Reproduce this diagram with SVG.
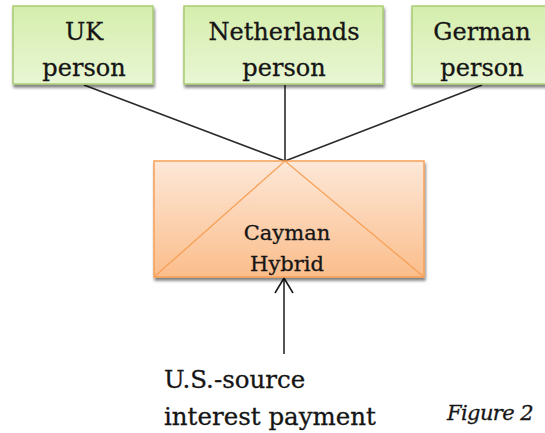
<svg xmlns="http://www.w3.org/2000/svg" width="545" height="433" viewBox="0 0 545 433">
<defs>
<linearGradient id="gGreen" x1="0" y1="0" x2="0" y2="1">
<stop offset="0" stop-color="#d5eeac"/>
<stop offset="1" stop-color="#e9f6d4"/>
</linearGradient>
<linearGradient id="gOrange" x1="0" y1="0" x2="0" y2="1">
<stop offset="0" stop-color="#fde8d8"/>
<stop offset="1" stop-color="#fbbd8b"/>
</linearGradient>
<filter id="sh" x="-10%" y="-10%" width="120%" height="130%">
<feGaussianBlur in="SourceAlpha" stdDeviation="1.5"/>
<feOffset dx="1" dy="3" result="b"/>
<feComponentTransfer><feFuncA type="linear" slope="0.5"/></feComponentTransfer>
<feMerge><feMergeNode/><feMergeNode in="SourceGraphic"/></feMerge>
</filter>
<marker id="open" viewBox="0 0 20 20" refX="18" refY="10" markerWidth="20" markerHeight="20" markerUnits="userSpaceOnUse" orient="auto">
<path d="M3,1 L18,10 L3,19" fill="none" stroke="#1a1a1a" stroke-width="1.6"/>
</marker>
</defs>
<style>
.green{fill:url(#gGreen);stroke:#a9cc72;stroke-width:1.5}
.orange{fill:url(#gOrange);stroke:#f7a057;stroke-width:1.5}
.t{font-family:"DejaVu Serif","Liberation Serif",serif;fill:#151515;stroke:#151515;stroke-width:0.3;text-anchor:middle}
.big{font-size:24px}
.mid{font-size:21px}
.plain{font-family:"DejaVu Serif","Liberation Serif",serif;fill:#151515;stroke:#151515;stroke-width:0.3}
.conn{stroke:#2a2a2a;stroke-width:1.6;fill:none}
</style>
<rect width="545" height="433" fill="#ffffff"/>
<g id="connectors">
<line class="conn" x1="84" y1="85" x2="285" y2="161"/>
<line class="conn" x1="285" y1="85" x2="285" y2="161"/>
<line class="conn" x1="482" y1="85" x2="285" y2="161"/>
<line class="conn" x1="284" y1="354" x2="284" y2="278" marker-end="url(#open)"/>
</g>
<g id="uk">
<rect class="green" x="13" y="6" width="140" height="78" filter="url(#sh)"/>
<text class="t big" x="84" y="40">UK</text>
<text class="t big" x="84" y="76">person</text>
</g>
<g id="netherlands">
<rect class="green" x="184" y="6" width="199" height="78" filter="url(#sh)"/>
<text class="t big" x="284" y="40">Netherlands</text>
<text class="t big" x="284" y="76">person</text>
</g>
<g id="german">
<rect class="green" x="412" y="6" width="140" height="78" filter="url(#sh)"/>
<text class="t big" x="482" y="40">German</text>
<text class="t big" x="482" y="76">person</text>
</g>
<g id="cayman">
<rect class="orange" x="154" y="161" width="270" height="116" filter="url(#sh)"/>
<path d="M154,277 L285,161 L424,277" fill="none" stroke="#f7a057" stroke-width="1.3"/>
<text class="t mid" x="287" y="240">Cayman</text>
<text class="t mid" x="287" y="271">Hybrid</text>
</g>
<g id="source">
<text class="plain" font-size="24.5" x="164" y="388">U.S.-source</text>
<text class="plain" font-size="24.5" x="164" y="425">interest payment</text>
</g>
<text class="plain" font-style="italic" font-size="21" x="447" y="420" letter-spacing="-0.6">Figure 2</text>
</svg>
